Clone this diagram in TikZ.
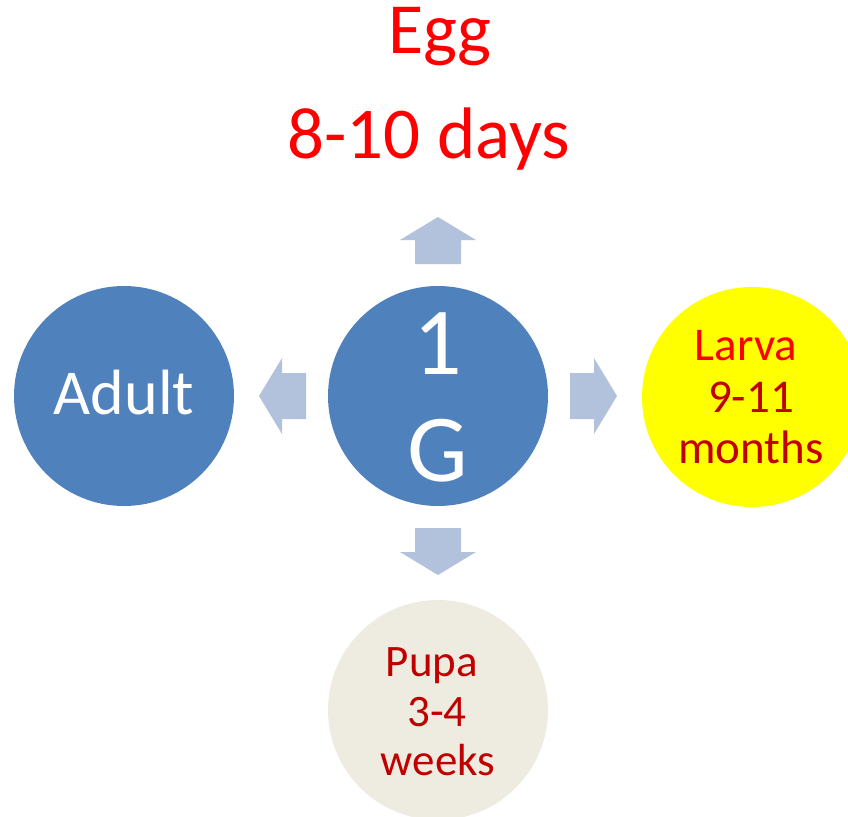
\documentclass[tikz,border=0pt]{standalone}
\usepackage{fontspec}
\setmainfont{Carlito}
\definecolor{stageblue}{HTML}{4F81BD}
\definecolor{arrowblue}{HTML}{B3C2DC}
\definecolor{pupabeige}{HTML}{EEECE1}
\definecolor{larvayellow}{HTML}{FFFF00}
\definecolor{darkred}{HTML}{C00000}
\definecolor{brightred}{HTML}{FF0000}
\tikzset{
  stage/.style={circle, minimum size=220pt, inner sep=0pt},
  blockarrow/.style={fill=arrowblue, draw=none},
  lbl/.style={anchor=base, inner sep=0pt},
}
% block arrow pointing away from a node, drawn along the given angle
\newcommand{\blockarrowfrom}[2]{%
  \begin{scope}[shift={(#1.center)}, rotate=#2]
    \path[blockarrow] (132pt,-23pt) -- (156pt,-23pt) -- (156pt,-38pt) -- (179pt,0pt)
      -- (156pt,38pt) -- (156pt,23pt) -- (132pt,23pt) -- cycle;
  \end{scope}}
\begin{document}
\begin{tikzpicture}[x=1pt, y=-1pt]
  \useasboundingbox (0,0) rectangle (848,816);
  \clip (0,0) rectangle (848,816);

  % stage circles
  \node[stage, fill=stageblue] (center) at (438,396) {};
  \node[stage, fill=stageblue] (adult) at (124,396) {};
  \node[stage, fill=larvayellow] (larva) at (752,397) {};
  \node[stage, fill=pupabeige] (pupa) at (438,710) {};

  % arrows from the centre towards each stage
  \blockarrowfrom{center}{90}
  \blockarrowfrom{center}{0}
  \blockarrowfrom{center}{180}
  \blockarrowfrom{center}{-90}

  % egg label above
  \node[lbl, text=brightred, font=\fontsize{72}{80}\selectfont] (egg) at (440,54) {Egg};
  \node[lbl, text=brightred, font=\fontsize{73}{80}\selectfont] (eggdays) at (429,158) {8-10 days};

  % centre label
  \node[lbl, text=white, font=\fontsize{96}{100}\selectfont] (one) at (438,374) {1};
  \node[lbl, text=white, font=\fontsize{96}{100}\selectfont] (gee) at (438,481) {G};

  % adult label
  \node[lbl, text=white, font=\fontsize{64}{70}\selectfont] (adulttxt) at (124,414) {Adult};

  % larva label
  \node[lbl, text=brightred, font=\fontsize{47}{52}\selectfont] (larvaname) at (746,360) {Larva};
  \node[lbl, text=darkred, font=\fontsize{47}{52}\selectfont] (larvatime) at (751,412) {9-11};
  \node[lbl, text=darkred, font=\fontsize{47}{52}\selectfont] (larvaunit) at (751,463) {months};

  % pupa label
  \node[lbl, text=darkred, font=\fontsize{45}{50}\selectfont] (pupaname) at (432,676) {Pupa};
  \node[lbl, text=darkred, font=\fontsize{45}{50}\selectfont] (pupatime) at (437,726) {3-4};
  \node[lbl, text=darkred, font=\fontsize{45}{50}\selectfont] (pupaunit) at (438,775) {weeks};
\end{tikzpicture}
\end{document}
